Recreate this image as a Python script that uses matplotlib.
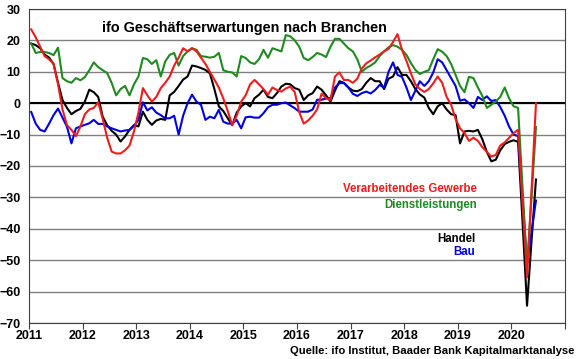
import numpy as np
import matplotlib
matplotlib.use("Agg")
import matplotlib.pyplot as plt

plt.rcParams['font.family'] = ['Liberation Sans', 'DejaVu Sans']
plt.rcParams['font.weight'] = 'bold'

# monthly values, Jan 2011 - Jun 2020
verarbeitendes = [
    23.5, 21, 18, 15, 14, 12.5, 6, -2, -7, -8.5, -10.5, -7.5,
    -3.5, -2, -1.5, 0.3, -5, -11, -15.4, -16, -16, -15, -13.5, -9,
    -3, 4.8, 2.5, 0.5, 2, 4.8, 6.5, 8.5, 12, 14.5, 17.5, 16.5,
    17.5, 16.5, 14.5, 12.5, 10, 7.5, 5, 1.5, -2.5, -7, -4, 0.5,
    2.5, 6, 7.4, 6, 4.5, 2.7, 5, 4.2, 3.7, 4.7, 5.3, 3.5,
    -2.8, -6.5, -5.5, -4, -2, 3, 1.6, 1, 8.5, 9.8, 7.4, 7.4,
    6.5, 7.8, 11, 12.7, 13.6, 14.6, 15.5, 16.5, 17.3, 19.5, 22, 17,
    13.5, 9.5, 6, 4.5, 3.6, 4.5, 6.3, 8.5, 6.5, 2, -0.5, -5,
    -8, -9.5, -12, -11, -12, -14, -15.5, -17, -16.5, -13.5, -12.5, -11,
    -9.5, -8.5, -32, -55.5, -28, 0,
]
dienstleistungen = [
    19, 16, 16.3, 16.3, 16, 15.3, 17.7, 8, 7, 6.5, 8, 7.3,
    8.3, 10.5, 13, 11.5, 10.5, 9.6, 6.5, 2.5, 4.5, 5.5, 2.5, 6,
    8.5, 14.4, 14, 12.5, 13.7, 8.5, 13.3, 15.4, 16, 12, 15, 16.5,
    17.5, 17, 15, 14.8, 14.5, 14.8, 16, 10.5, 10, 9.8, 8.5, 15,
    14.4, 13, 12.5, 14, 17, 14.5, 17.5, 17, 16.5, 21.7, 21.3, 20,
    18, 14.4, 13.7, 14.7, 16, 15.5, 14.7, 18, 20.5, 20.5, 19, 17.5,
    16.5, 14, 10, 11.2, 12, 13, 15, 16.5, 17.8, 18.5, 18, 17,
    15.4, 12.8, 10.6, 9.3, 10, 10.5, 14, 17.2, 16.4, 15, 12.5, 9,
    5.5, 3.5, 8.4, 8, 5, 2.3, -1.5, -0.5, 0.5, 2, 5, 1.5,
    -1, -1.5, -27, -52, -30, -7.6,
]
handel = [
    19, 18.5, 17.5, 15.5, 14.5, 12.5, 6.5, 1, -1.5, -3.5, -2.5, -1.8,
    0.5, 4.3, 3.5, 2, -4.3, -7, -8.8, -10, -12.2, -10.6, -8.5, -7,
    -7.4, -2.7, -5.3, -6.9, -5.5, -5, -5.3, 2.5, 3.6, 5.5, 7.5, 8.5,
    12, 11.7, 11.2, 10.6, 9.5, 4.5, -1, -2.5, -4.8, -7, -3, -1,
    0, -1, 1.6, 2.7, 4.3, 2, 1.6, 3.2, 5.3, 6.2, 6, 4.8,
    4.3, 1, 2.5, 3.2, 5.3, 4.3, 2.5, 0.5, 4, 7, 6.5, 5,
    4, 3.8, 4.5, 6.5, 8, 7, 7, 4.5, 7.8, 8.5, 11.5, 9,
    9, 7, 4.5, 2.8, 1.8, -1.5, -3.5, -1, 0, -2, -3.5, -3.8,
    -12.8, -9, -8.8, -9, -8.5, -11.5, -15.5, -18.5, -18, -15, -13, -12.3,
    -11.8, -12.3, -38, -64.5, -44, -24.3,
]
bau = [
    -2.8, -6.5, -8.5, -9, -6.5, -3.8, -1.7, -4.6, -7.5, -12.8, -8, -7.4,
    -6.9, -6.4, -5.3, -6.6, -6.6, -7.4, -8, -8.5, -9, -8.7, -8.5, -7.2,
    -5.3, 0.3, -2.3, -1.3, -3, -3.8, -4.8, -4.8, -4, -10, -4, 0,
    2.7, 0.5, -0.5, -5.3, -4.3, -4.8, -2.1, -5.9, -6.5, -6.5, -5.3, -8,
    -4.5, -4.3, -4.6, -4.6, -3.2, -1.3, -0.5, -0.5, 0, 0.2, -0.7, -1.6,
    -2.7, -2.7, -2.7, -2, 1.1, 1.1, 1.5, 1.6, 5, 6.4, 6.4, 5,
    3, 2.3, 3.2, 3.7, 3.1, 4.2, 5.8, 5, 10, 13, 9, 8.4,
    5, 1, 4, 7, 5.5, 7, 9.8, 14, 13, 10.5, 8, 5.5,
    0.8, 1.2, 0, -1.5, 2, 1, 2.2, 0.7, 1, -1.2, -4, -7.5,
    -10, -10.5, -31, -51, -41, -31,
]
years = list(range(2011, 2022))
year_labels = [str(y) for y in years[:-1]] + ['']

x = 2011 + (np.arange(len(verarbeitendes)) + 0.5) / 12

fig = plt.figure(figsize=(5.8, 3.59), dpi=100)
ax = fig.add_axes([29 / 580, 1 - 323 / 359, (565 - 29) / 580, (323 - 9) / 359])

ax.set_xlim(2011, 2021)
ax.set_ylim(-70, 30)
ax.set_yticks(range(-70, 31, 10))
ax.grid(axis='y', color='#808080', lw=1)
ax.axhline(0, color='black', lw=1.5, zorder=2)

ax.plot(x, handel, color='black', lw=1.5, zorder=3)
ax.plot(x, bau, color='#0000e0', lw=1.5, zorder=3)
ax.plot(x, dienstleistungen, color='#1f8a1f', lw=1.5, zorder=3)
ax.plot(x, verarbeitendes, color='#ee1c1c', lw=1.5, zorder=3)

ax.set_xticks(years)
ax.set_xticklabels(year_labels)
ax.tick_params(axis='x', direction='out', length=4, pad=1, labelsize=9, color='#404040')
ax.tick_params(axis='y', length=0, pad=6, labelsize=9)
for s in ax.spines.values():
    s.set_color('#404040')

ax.text(0.137, 0.94, 'ifo Geschäftserwartungen nach Branchen', transform=ax.transAxes,
        fontsize=10.4, fontweight='bold', ha='left', va='center')

fig.text(477 / 580, 1 - 189 / 359, 'Verarbeitendes Gewerbe', color='#ee1c1c',
         fontsize=8.3, ha='right', va='center')
fig.text(477 / 580, 1 - 205 / 359, 'Dienstleistungen', color='#1f8a1f',
         fontsize=8.3, ha='right', va='center')
fig.text(475 / 580, 1 - 239 / 359, 'Handel', color='black',
         fontsize=8.3, ha='right', va='center')
fig.text(475 / 580, 1 - 252 / 359, 'Bau', color='#0000e0',
         fontsize=8.3, ha='right', va='center')
fig.text(574 / 580, 1 - 351 / 359, 'Quelle: ifo Institut, Baader Bank Kapitalmarktanalyse',
         fontsize=8.1, ha='right', va='center')

fig.savefig('out.png', dpi=100)
